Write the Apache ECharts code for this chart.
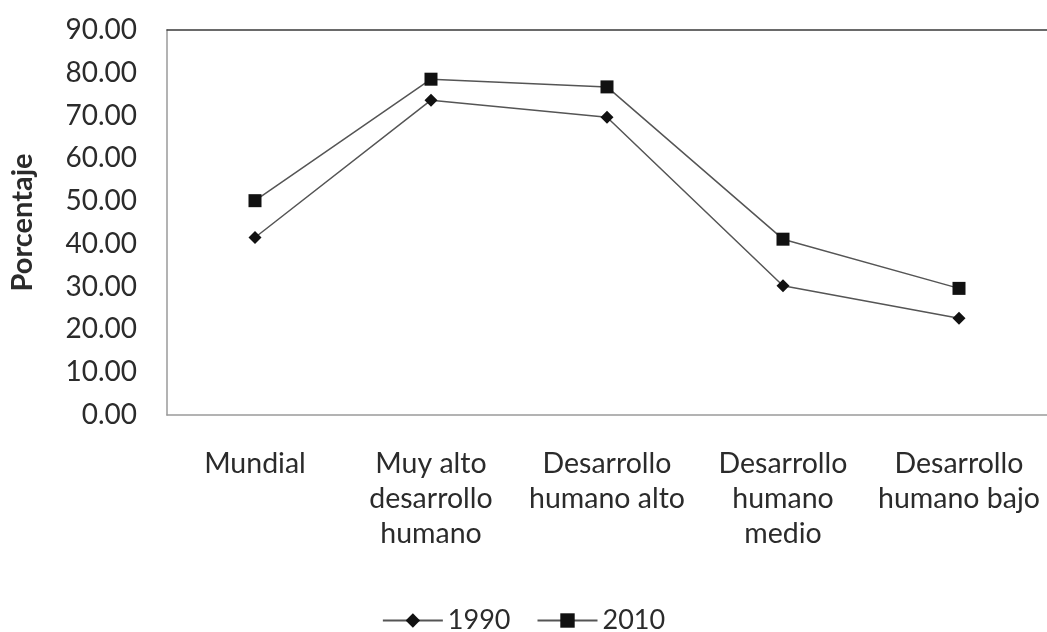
<!DOCTYPE html>
<html>
<head>
<meta charset="utf-8">
<script src="https://cdn.jsdelivr.net/npm/echarts@6/dist/echarts.min.js"></script>
<style>
  html, body { margin: 0; padding: 0; background: #fff; }
  #chart { width: 1047px; height: 632px; }
</style>
</head>
<body>
<div id="chart"></div>
<script>
// Categorías de desarrollo humano
const categories = [
  'Mundial',
  'Muy alto\ndesarrollo\nhumano',
  'Desarrollo\nhumano alto',
  'Desarrollo\nhumano\nmedio',
  'Desarrollo\nhumano bajo'
];
// Porcentaje por año
const values1990 = [41.5, 73.6, 69.6, 30.2, 22.6];
const values2010 = [50.1, 78.5, 76.7, 41.1, 29.6];
const yTicks = { min: 0, max: 90, step: 10 };

const FONT = 'Lato, "Open Sans", sans-serif';
const TEXT = '#2b2b2b';

const chart = echarts.init(document.getElementById('chart'), null, { renderer: 'canvas' });
chart.setOption({
  animation: false,
  backgroundColor: '#fff',
  textStyle: { fontFamily: FONT },
  grid: { left: 163, right: -5, top: 30, bottom: 217, containLabel: false },
  legend: {
    top: 602,
    left: 'center',
    itemWidth: 60,
    itemHeight: 18,
    itemGap: 26,
    textStyle: { fontSize: 27, color: TEXT, fontFamily: FONT },
    data: ['1990', '2010']
  },
  xAxis: [
    {
      type: 'category',
      data: categories,
      boundaryGap: true,
      axisLine: { show: true, lineStyle: { color: '#9a9a9a', width: 1.5 } },
      axisTick: { show: false },
      axisLabel: {
        interval: 0,
        margin: 31,
        fontSize: 28.5,
        lineHeight: 35,
        color: TEXT,
        fontFamily: FONT,
        align: 'center'
      }
    },
    {
      // borde superior del área de trazado
      type: 'category',
      data: categories,
      position: 'top',
      axisLine: { show: true, lineStyle: { color: '#3a3a3a', width: 1.5 } },
      axisTick: { show: false },
      axisLabel: { show: false }
    }
  ],
  yAxis: {
    type: 'value',
    min: yTicks.min,
    max: yTicks.max,
    interval: yTicks.step,
    name: 'Porcentaje',
    nameLocation: 'middle',
    nameGap: 130,
    nameRotate: 90,
    nameTextStyle: { fontSize: 29, fontWeight: 'bold', color: TEXT, fontFamily: FONT },
    axisLine: { show: true, lineStyle: { color: '#9a9a9a', width: 1.5 } },
    axisTick: { show: false },
    splitLine: { show: false },
    axisLabel: {
      margin: 30,
      fontSize: 28,
      color: TEXT,
      fontFamily: FONT,
      formatter: v => v.toFixed(2)
    }
  },
  series: [
    {
      name: '1990',
      type: 'line',
      data: values1990,
      symbol: 'diamond',
      symbolSize: 13,
      showAllSymbol: true,
      lineStyle: { color: '#555', width: 1.5 },
      itemStyle: { color: '#111', borderWidth: 0 }
    },
    {
      name: '2010',
      type: 'line',
      data: values2010,
      symbol: 'rect',
      symbolSize: 13,
      showAllSymbol: true,
      lineStyle: { color: '#555', width: 1.5 },
      itemStyle: { color: '#111', borderWidth: 0 }
    }
  ]
});
</script>
</body>
</html>
